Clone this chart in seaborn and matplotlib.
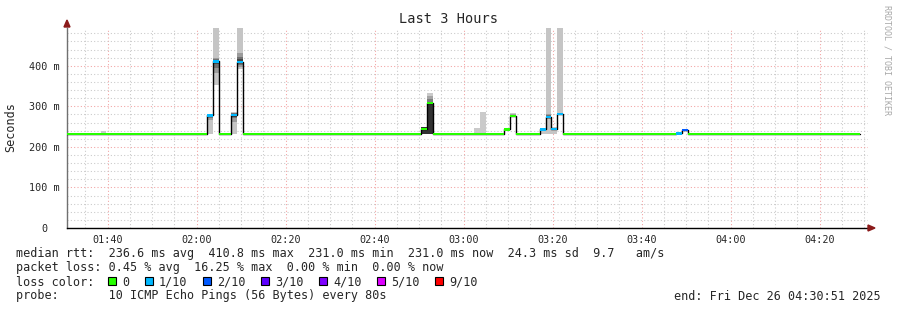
import numpy as np
import pandas as pd
import matplotlib
matplotlib.use("Agg")
import matplotlib.pyplot as plt
from matplotlib.patches import Polygon, Rectangle
from matplotlib.ticker import MultipleLocator, FixedLocator, FixedFormatter
import seaborn as sns

# ---------------- data ----------------
TITLE = "Last 3 Hours"
Y_LABEL = "Seconds"
WATERMARK = "RRDTOOL / TOBI OETIKER"

VIEW_START = "01:30:51"
VIEW_END = "04:30:51"
FIRST_SAMPLE = "01:30:23"      # start of sample #0
STEP_SECONDS = 80
N_SAMPLES = 134
Y_MAX_MS = 493
BASE_MEDIAN_MS = 231.0         # median rtt of every quiet sample (no loss)

# samples that differ from the quiet baseline
EVENT_SAMPLE = [6, 24, 25, 28, 29, 60, 61, 69, 70, 74, 75, 78, 80, 81, 82, 83, 103, 104]
EVENT_MEDIAN = [231, 277.6, 410.8, 278, 409.5, 244.6, 308.6, 231, 231, 243, 276, 231,
                243, 274, 244, 281, 233, 241]
EVENT_LOSS = [0, 1, 1, 1, 1, 0, 0, 0, 0, 0, 0, 0, 1, 1, 1, 1, 1, 2]
EVENT_PINGS = [
    [231, 231, 231, 231, 231, 231, 231, 231, 231, 239],
    [231, 266, 272, 275, 277.6, 279, 280, 281, 282],
    [352, 381, 395, 405, 410.8, 414, 416, 418, 520],
    [231, 262, 270, 274, 278, 281, 283, 284, 285],
    [393, 398, 402, 406, 409.5, 416, 422, 431, 520],
    [231, 231, 231, 231, 231, 249, 249, 250, 250, 250],
    [231, 231, 231, 231, 231, 309, 311, 318, 325, 334],
    [231, 231, 231, 231, 231, 231, 231, 231, 231, 247],
    [231, 231, 231, 231, 231, 231, 231, 231, 231, 285],
    [242, 242, 243, 243, 243, 243, 243, 244, 244, 244],
    [273, 274, 275, 275, 276, 276, 277, 279, 281, 282.5],
    [231, 231, 231, 231, 231, 231, 231, 231, 231, 233],
    [231, 240, 242, 243, 243, 244, 244, 245, 246],
    [231, 268, 271, 273, 274, 276, 279, 282, 520],
    [231, 241, 243, 244, 244, 245, 246, 247, 249],
    [280, 280, 281, 281, 281, 282, 283, 284, 520],
    [231, 232, 232, 233, 233, 233, 234, 234, 235],
    [238, 239, 240, 241, 241, 242, 243, 244],
]

X_TICK_LABELS = ["01:40", "02:00", "02:20", "02:40", "03:00", "03:20", "03:40", "04:00", "04:20"]
Y_TICK_VALUES = [0, 100, 200, 300, 400]
Y_TICK_LABELS = ["0  ", "100 m", "200 m", "300 m", "400 m"]

LOSS_LABELS = ["0", "1/10", "2/10", "3/10", "4/10", "5/10", "9/10"]
LOSS_COLORS = ["#26ff00", "#00b8ff", "#0059ff", "#5e00ff", "#7e00ff", "#dd00ff", "#ff0000"]

LEGEND_RTT = "median rtt:  236.6 ms avg  410.8 ms max  231.0 ms min  231.0 ms now  24.3 ms sd  9.7   am/s"
LEGEND_LOSS = "packet loss: 0.45 % avg  16.25 % max  0.00 % min  0.00 % now"
LEGEND_COLOR = "loss color:"
LEGEND_PROBE = "probe:       10 ICMP Echo Pings (56 Bytes) every 80s"
END_TEXT = "end: Fri Dec 26 04:30:51 2025"


def to_min(s):
    p = [int(v) for v in s.split(":")]
    return p[0] * 60 + p[1] + (p[2] / 60 if len(p) > 2 else 0)


# ---------------- build sample table ----------------
step = STEP_SECONDS / 60
starts = to_min(FIRST_SAMPLE) + np.arange(N_SAMPLES) * step
median = np.full(N_SAMPLES, BASE_MEDIAN_MS)
loss = np.zeros(N_SAMPLES, dtype=int)
for k, m, l in zip(EVENT_SAMPLE, EVENT_MEDIAN, EVENT_LOSS):
    median[k] = m
    loss[k] = l
df = pd.DataFrame({"start": starts, "median": median, "loss": loss})

# ---------------- figure ----------------
W, H = 897, 310
sns.set_style("white")
plt.rcParams["font.family"] = ["DejaVu Sans Mono"]
fig = plt.figure(figsize=(W / 100, H / 100), dpi=100)
fig.patch.set_facecolor("white")


def fx(x):
    return x / W


def fy(y):
    return 1 - y / H


ax_left, ax_right, ax_top, ax_bottom = 67, 868, 28, 228
ax = fig.add_axes([fx(ax_left), fy(ax_bottom), (ax_right - ax_left) / W, (ax_bottom - ax_top) / H])
ax.set_facecolor("white")
ax.set_xlim(to_min(VIEW_START), to_min(VIEW_END))
ax.set_ylim(0, Y_MAX_MS)

# grid
ax.set_axisbelow(True)
x_major = [to_min(s) for s in X_TICK_LABELS]
ax.xaxis.set_major_locator(FixedLocator(x_major))
ax.xaxis.set_major_formatter(FixedFormatter(X_TICK_LABELS))
ax.xaxis.set_minor_locator(MultipleLocator(5))
ax.yaxis.set_major_locator(FixedLocator(Y_TICK_VALUES))
ax.yaxis.set_major_formatter(FixedFormatter(Y_TICK_LABELS))
ax.yaxis.set_minor_locator(MultipleLocator(20))
ax.grid(which="minor", color="#c8c8c8", linestyle=(0, (1, 2.2)), linewidth=0.75)
ax.grid(which="major", color="#f2a0a0", linestyle=(0, (1, 2.2)), linewidth=0.75)

# smoke
for k, pings in zip(EVENT_SAMPLE, EVENT_PINGS):
    p = sorted(pings)
    n = len(p)
    half = n / 2
    for i in range(1, int(half) + 1):
        lo, hi = p[i - 1], p[n - i]
        if hi <= lo:
            continue
        g = int(190 / half * (half - i)) + 50
        ax.bar(starts[k], hi - lo, bottom=lo, width=step, align="edge",
               color="#%02x%02x%02x" % (g, g, g), linewidth=0, zorder=2)

# median line
xs = np.append(df["start"].values, df["start"].values[-1] + step)
ys = np.append(df["median"].values, df["median"].values[-1])
sns.lineplot(x=xs, y=ys, ax=ax, color="black", linewidth=1.0, drawstyle="steps-post",
             estimator=None, sort=False, zorder=3)

# loss coloured median bars (grouped into runs)
sw = 2.9
i = 0
while i < N_SAMPLES:
    j = i
    while j + 1 < N_SAMPLES and loss[j + 1] == loss[i] and median[j + 1] == median[i]:
        j += 1
    ax.bar(starts[i], 2 * sw, bottom=median[i] - sw, width=step * (j - i + 1), align="edge",
           color=LOSS_COLORS[loss[i]], linewidth=0, zorder=4)
    i = j + 1

# axes styling
for s in ["top", "right"]:
    ax.spines[s].set_visible(False)
ax.spines["left"].set_color("#707070")
ax.spines["left"].set_linewidth(1.0)
ax.spines["bottom"].set_color("black")
ax.spines["bottom"].set_linewidth(1.0)
ax.set_xlabel("")
ax.set_ylabel("")
ax.tick_params(axis="x", which="major", direction="out", length=2.5, width=0.7, color="#444444",
               labelsize=7.3, pad=2.5)
ax.tick_params(axis="x", which="minor", direction="out", length=1.6, width=0.7, color="#999999")
ax.tick_params(axis="y", which="major", direction="out", length=2.5, width=0.7, color="#888888",
               labelsize=7.3, pad=2.5)
ax.tick_params(axis="y", which="minor", direction="out", length=1.6, width=0.7, color="#aaaaaa")

# arrows
arrow_c = "#8b1a1a"
fig.patches.append(Polygon([(fx(64), fy(27)), (fx(70), fy(27)), (fx(67), fy(20))], closed=True,
                           transform=fig.transFigure, color=arrow_c, figure=fig))
fig.patches.append(Polygon([(fx(868), fy(225)), (fx(868), fy(231)), (fx(875), fy(228))], closed=True,
                           transform=fig.transFigure, color=arrow_c, figure=fig))

# texts
fig.text(fx(448), fy(19), TITLE, ha="center", va="center", fontsize=9.8)
fig.text(fx(11), fy(127), Y_LABEL, ha="center", va="center", rotation=90, fontsize=8.5)
fig.text(fx(887), fy(60), WATERMARK, ha="center", va="center", rotation=270, fontsize=6,
         color="#a8a8a8")

fs = 8.5
fig.text(fx(16), fy(254), LEGEND_RTT, ha="left", va="center", fontsize=fs)
fig.text(fx(16), fy(268), LEGEND_LOSS, ha="left", va="center", fontsize=fs)
fig.text(fx(16), fy(282), LEGEND_COLOR, ha="left", va="center", fontsize=fs)
fig.text(fx(16), fy(296), LEGEND_PROBE, ha="left", va="center", fontsize=fs)
fig.text(fx(881), fy(296), END_TEXT, ha="right", va="center", fontsize=fs)

bx = 108
for lab, col in zip(LOSS_LABELS, LOSS_COLORS):
    fig.patches.append(Rectangle((fx(bx), fy(285)), 8 / W, 8 / H, transform=fig.transFigure,
                                 facecolor=col, edgecolor="black", linewidth=0.8, figure=fig))
    fig.text(fx(bx + 14), fy(282), lab, ha="left", va="center", fontsize=fs)
    bx = bx + 14 + 7 * len(lab) + 16

fig.savefig("out.png", dpi=100)
